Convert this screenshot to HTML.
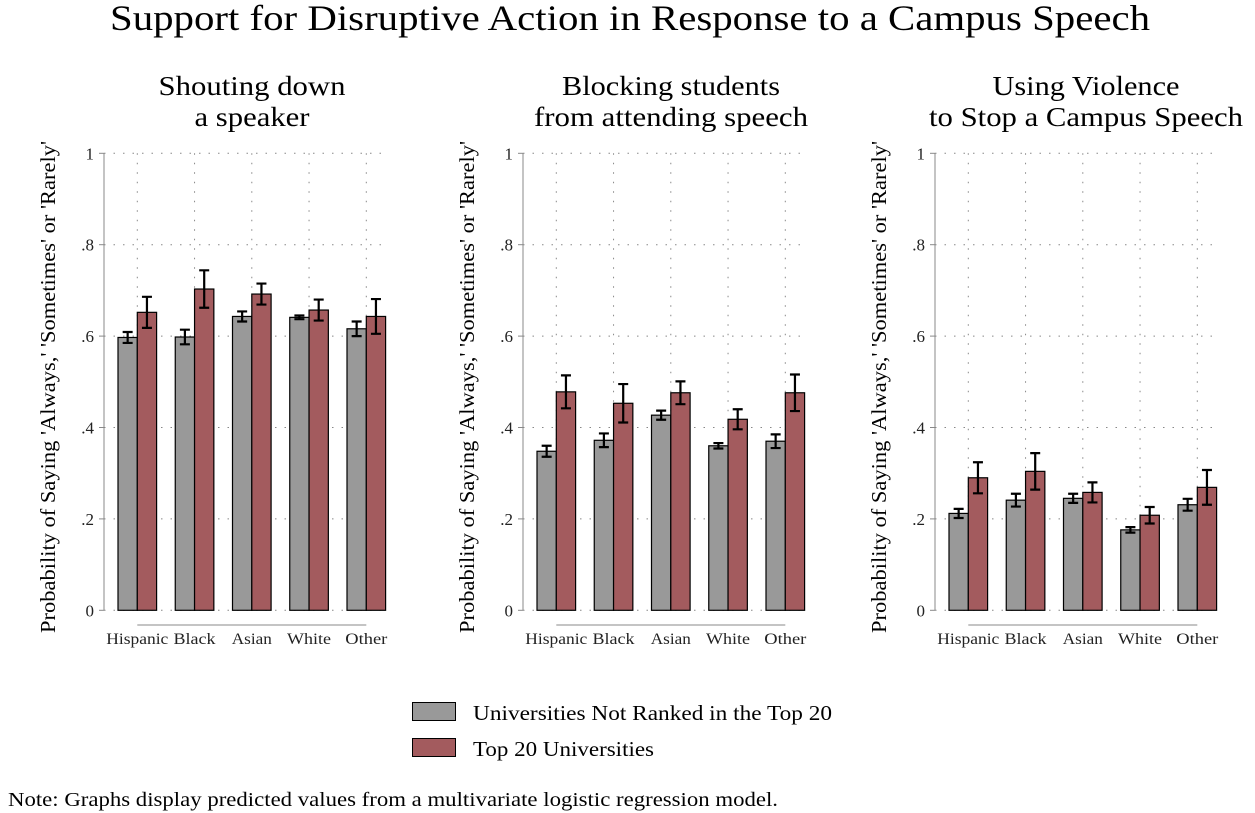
<!DOCTYPE html>
<html><head><meta charset="utf-8"><style>
html,body{margin:0;padding:0;background:#fff;}
svg{display:block;font-family:"Liberation Serif",serif;}
</style></head><body>
<svg id="c" width="1255" height="813" viewBox="0 0 1255 813">
<text x="110" y="30" font-size="36" textLength="1040" lengthAdjust="spacingAndGlyphs" fill="#000">Support for Disruptive Action in Response to a Campus Speech</text>
<g>
<rect x="412.5" y="702.5" width="43" height="18" fill="#999" stroke="#000"/>
<text x="473" y="720" font-size="21" textLength="359" lengthAdjust="spacingAndGlyphs">Universities Not Ranked in the Top 20</text>
<rect x="412.5" y="738.5" width="43" height="18" fill="#a35b5e" stroke="#000"/>
<text x="473" y="756" font-size="21" textLength="181" lengthAdjust="spacingAndGlyphs">Top 20 Universities</text>
</g>
<text x="8" y="806" font-size="20" textLength="770" lengthAdjust="spacingAndGlyphs">Note: Graphs display predicted values from a multivariate logistic regression model.</text>
</svg>
<script>
const categories = ["Hispanic","Black","Asian","White","Other"];
const panelTitles = [["Shouting down","a speaker"],["Blocking students","from attending speech"],["Using Violence","to Stop a Campus Speech"]];
const grayVals1 = [0.597,0.598,0.643,0.641,0.616];
const redVals1  = [0.652,0.703,0.692,0.657,0.643];
const grayErr1  = [0.012,0.016,0.011,0.004,0.016];
const redErr1   = [0.034,0.041,0.023,0.023,0.038];
const grayVals2 = [0.348,0.372,0.427,0.360,0.370];
const redVals2  = [0.478,0.453,0.476,0.418,0.476];
const grayErr2  = [0.012,0.015,0.010,0.006,0.015];
const redErr2   = [0.036,0.042,0.025,0.022,0.040];
const grayVals3 = [0.212,0.241,0.245,0.176,0.231];
const redVals3  = [0.290,0.304,0.258,0.208,0.269];
const grayErr3  = [0.010,0.014,0.010,0.006,0.013];
const redErr3   = [0.034,0.040,0.022,0.018,0.038];
const yTicks = [0,0.2,0.4,0.6,0.8,1];
const yTickLabels = ["0",".2",".4",".6",".8","1"];

const NS="http://www.w3.org/2000/svg";
const svg=document.getElementById('c');
function mk(tag,attrs,parent,text){const e=document.createElementNS(NS,tag);for(const k in attrs)e.setAttribute(k,attrs[k]);if(text!==undefined)e.textContent=text;(parent||svg).appendChild(e);return e;}
const panels=[[grayVals1,redVals1,grayErr1,redErr1],[grayVals2,redVals2,grayErr2,redErr2],[grayVals3,redVals3,grayErr3,redErr3]];
const offsets=[0,419,831];
const titleW=[[187,115],[218,274],[187,314]];
const xLabW=[62,42,40,44,42];
const y0=610.3,y1=153.3;
function yS(v){return y0-(y0-y1)*v;}
panels.forEach((p,pi)=>{
  const ox=offsets[pi];
  const g=mk('g',{});
  
  
  const axX=104+ox, right=388+ox;
  function xS(i){return 137.3+ox+57.25*i;}
  const bw=19.3;
  const cxT = pi===2 ? 1086 : 252+ox;
  const t=mk('text',{'text-anchor':'middle','font-size':27},g);
  
  
  mk('tspan',{x:cxT,y:95,textLength:titleW[pi][0],lengthAdjust:'spacingAndGlyphs'},t,panelTitles[pi][0]);
  mk('tspan',{x:cxT,y:126,textLength:titleW[pi][1],lengthAdjust:'spacingAndGlyphs'},t,panelTitles[pi][1]);
  yTicks.forEach((v,i)=>{
    const l=mk('line',{x1:axX,x2:right,y1:yS(v),y2:yS(v),stroke:'#888','stroke-width':1,'stroke-dasharray':'1.5 8'},g);
    
    
    mk('line',{x1:axX-5,x2:axX,y1:yS(v),y2:yS(v),stroke:'#888'},g);
    const tl=mk('text',{x:axX-10,y:yS(v)+6,'text-anchor':'end','font-size':17,fill:'#222'},g,yTickLabels[i]);
    
    
  });
  categories.forEach((c,i)=>{
    const l=mk('line',{x1:xS(i),x2:xS(i),y1:y1,y2:y0,stroke:'#888','stroke-dasharray':'1.5 8'},g);
    
    
  });
  mk('line',{x1:axX,x2:axX,y1:y1,y2:y0,stroke:'#888'},g);
  mk('line',{x1:xS(0),x2:xS(4),y1:625,y2:625,stroke:'#888'},g);
  const yl=mk('text',{transform:`translate(${55+ox},387) rotate(-90)`,'text-anchor':'middle','font-size':21,textLength:492,lengthAdjust:'spacingAndGlyphs'},g,"Probability of Saying 'Always,' 'Sometimes' or 'Rarely'");
  
  
  categories.forEach((c,i)=>{
    const cx=xS(i);
    [[p[0][i],p[2][i],cx-bw,'#999','gray'],[p[1][i],p[3][i],cx,'#a35b5e','red']].forEach(([v,e,x,col,nm])=>{
      const r=mk('rect',{x:x,y:yS(v),width:bw,height:y0-yS(v),fill:col,stroke:'#000','stroke-width':1.2},g);
      
      
      const m=x+bw/2;
      const eb=mk('path',{d:`M${m},${yS(v+e)}V${yS(v-e)}M${m-5},${yS(v+e)}H${m+5}M${m-5},${yS(v-e)}H${m+5}`,stroke:'#000','stroke-width':2.2,fill:'none'},g);
      
      
    });
    const xl=mk('text',{x:cx,y:644,'text-anchor':'middle','font-size':16,fill:'#222',textLength:xLabW[i],lengthAdjust:'spacingAndGlyphs'},g,c);
    
    
  });
});
</script>
</body></html>
